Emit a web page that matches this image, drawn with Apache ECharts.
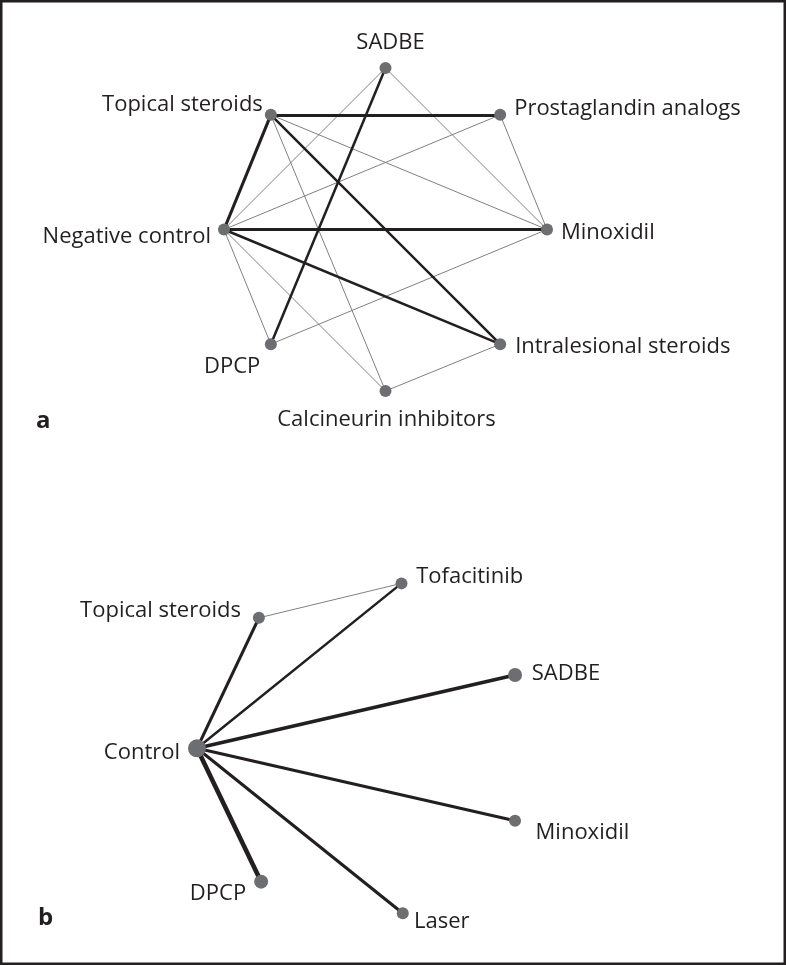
<!DOCTYPE html>
<html>
<head>
<meta charset="utf-8">
<script src="https://cdn.jsdelivr.net/npm/echarts@6/dist/echarts.min.js"></script>
<style>
html,body{margin:0;padding:0;background:#fff;}
#c{width:786px;height:965px;}
</style>
</head>
<body>
<div id="c"></div>
<script>
// ---------- Panel a: network of treatments (octagon layout, unit circle) ----------
const namesA = ['SADBE','Prostaglandin analogs','Minoxidil','Intralesional steroids','Calcineurin inhibitors','DPCP','Negative control','Topical steroids'];
const xA = [0, 0.71, 1, 0.71, 0, -0.71, -1, -0.71];
const yA = [1, 0.71, 0, -0.71, -1, -0.71, 0, 0.71];
// edges: [source, target, number of studies (relative)]
const edgesA = [
  ['SADBE','Negative control',1],
  ['SADBE','Minoxidil',1],
  ['Topical steroids','Minoxidil',1],
  ['Topical steroids','Calcineurin inhibitors',1],
  ['Prostaglandin analogs','Negative control',1],
  ['Prostaglandin analogs','Minoxidil',1],
  ['Negative control','DPCP',1],
  ['Negative control','Calcineurin inhibitors',1],
  ['DPCP','Minoxidil',1],
  ['Calcineurin inhibitors','Intralesional steroids',1],
  ['SADBE','DPCP',2],
  ['Topical steroids','Intralesional steroids',2],
  ['Negative control','Intralesional steroids',2],
  ['Topical steroids','Prostaglandin analogs',3],
  ['Topical steroids','Negative control',3],
  ['Negative control','Minoxidil',3]
];
const nodeWeightA = [1,1,1,1,1,1,1,1];

// ---------- Panel b: star network around Control ----------
const namesB = ['Topical steroids','Tofacitinib','SADBE','Control','Minoxidil','DPCP','Laser'];
const xB = [19.4, 64.1, 99.7, 0, 99.7, 20.1, 64.5];
const yB = [40.9, 51.7, 23.0, 0, -22.7, -41.8, -51.7];
const edgesB = [
  ['Topical steroids','Tofacitinib',1],
  ['Control','Tofacitinib',2],
  ['Control','Topical steroids',3],
  ['Control','SADBE',4],
  ['Control','Minoxidil',3],
  ['Control','Laser',3],
  ['Control','DPCP',5]
];
const nodeWeightB = [1,1,2,4,1,2,1];

const panelTags = ['a','b'];

// ---------- styling ----------
const NODE_COLOR = '#6d6e71';
const DARK = '#231f20';
const THIN = '#808080';
const FONT = '"Open Sans", "Noto Sans", sans-serif';
const edgeWidth = {1:1, 2:2.5, 3:3.1, 4:3.7, 5:4.6};
const nodeSize = {1:12, 2:14, 4:18};
const DY = 2.5;

const labelA = {
  'SADBE': {p:'inside', d:0, o:[5,-27.5]},
  'Prostaglandin analogs': {p:'right', d:8, o:[0,-9]},
  'Minoxidil': {p:'right', d:8, o:[0,1]},
  'Intralesional steroids': {p:'right', d:9, o:[0,0]},
  'Calcineurin inhibitors': {p:'inside', d:0, o:[1,26]},
  'DPCP': {p:'left', d:4.5, o:[0,20]},
  'Negative control': {p:'left', d:7, o:[0,5]},
  'Topical steroids': {p:'left', d:2, o:[0,-12.5]}
};
const labelB = {
  'Topical steroids': {p:'left', d:12, o:[0,-10]},
  'Tofacitinib': {p:'right', d:8.7, o:[0,-9.6]},
  'SADBE': {p:'right', d:9.7, o:[0,-3.3]},
  'Control': {p:'left', d:8, o:[0,1.7]},
  'Minoxidil': {p:'right', d:14.5, o:[0,9.5]},
  'DPCP': {p:'left', d:8, o:[0,9.3]},
  'Laser': {p:'right', d:5.3, o:[0,6.4]}
};

function buildNodes(names, xs, ys, weights, labels) {
  return names.map(function (n, i) {
    const L = labels[n];
    return {
      name: n,
      value: [xs[i], ys[i]],
      symbolSize: nodeSize[weights[i]],
      label: {
        show: true,
        position: L.p,
        distance: L.d,
        offset: [L.o[0], L.o[1] + DY],
        color: DARK,
        fontFamily: FONT,
        fontSize: 22
      }
    };
  });
}
function buildLinks(edges) {
  return edges.map(function (e) {
    return {
      source: e[0], target: e[1],
      lineStyle: {width: edgeWidth[e[2]], color: e[2] === 1 ? THIN : DARK, opacity: 1, curveness: 0}
    };
  });
}
function graphSeries(idx, nodes, links) {
  return {
    type: 'graph',
    coordinateSystem: 'cartesian2d',
    xAxisIndex: idx, yAxisIndex: idx,
    layout: 'none',
    symbol: 'circle',
    itemStyle: {color: NODE_COLOR},
    edgeSymbol: ['none','none'],
    data: nodes,
    links: links,
    emphasis: {disabled: true},
    silent: true,
    animation: false
  };
}

const chart = echarts.init(document.getElementById('c'), null, {renderer: 'canvas'});
chart.setOption({
  animation: false,
  backgroundColor: '#fff',
  grid: [
    {left: 224, top: 68, width: 323, height: 323},
    {left: 197, top: 572.85, width: 319, height: 350.9}
  ],
  xAxis: [
    {type: 'value', gridIndex: 0, min: -1, max: 1, show: false},
    {type: 'value', gridIndex: 1, min: 0, max: 100, show: false}
  ],
  yAxis: [
    {type: 'value', gridIndex: 0, min: -1, max: 1, show: false},
    {type: 'value', gridIndex: 1, min: -55, max: 55, show: false}
  ],
  graphic: [
    {type: 'rect', shape: {x: 1.25, y: 1.25, width: 783.5, height: 962.5},
     style: {fill: 'none', stroke: DARK, lineWidth: 2.5}, silent: true},
    {type: 'text', x: 36, y: 421,
     style: {text: panelTags[0], font: 'bold 24px ' + FONT, fill: DARK, align: 'left', verticalAlign: 'middle', textAlign: 'left', textVerticalAlign: 'middle'}},
    {type: 'text', x: 38, y: 918,
     style: {text: panelTags[1], font: 'bold 24px ' + FONT, fill: DARK, align: 'left', verticalAlign: 'middle', textAlign: 'left', textVerticalAlign: 'middle'}}
  ],
  series: [
    graphSeries(0, buildNodes(namesA, xA, yA, nodeWeightA, labelA), buildLinks(edgesA)),
    graphSeries(1, buildNodes(namesB, xB, yB, nodeWeightB, labelB), buildLinks(edgesB))
  ]
});
</script>
</body>
</html>
